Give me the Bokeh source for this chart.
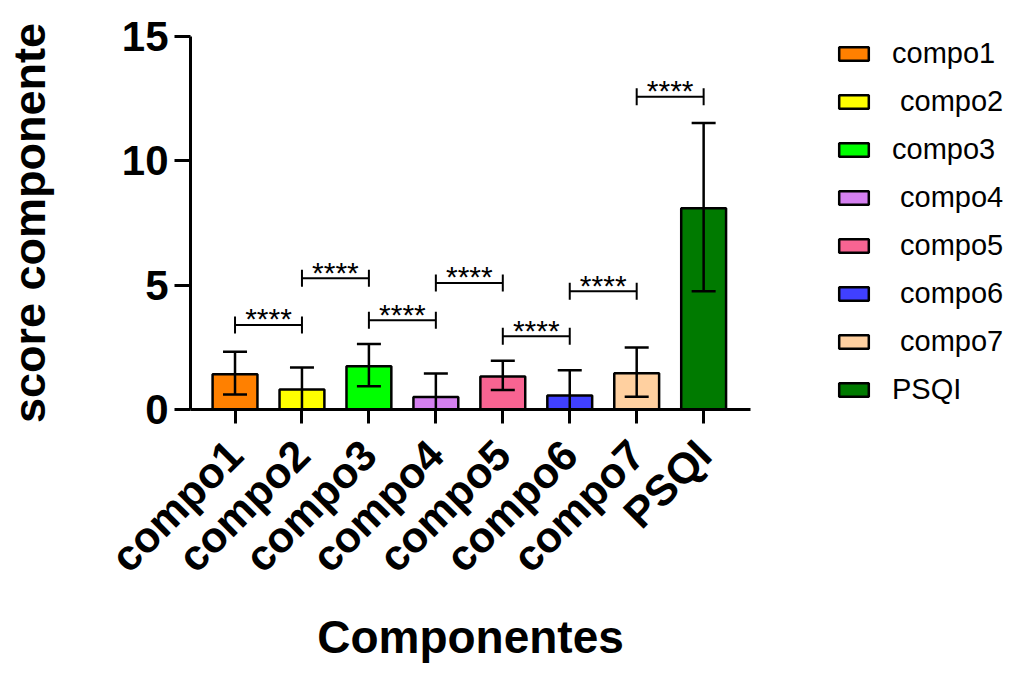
import math
from bokeh.plotting import figure
from bokeh.models import ColumnDataSource, FixedTicker, Legend, LegendItem, Range1d, Title
from bokeh.core.properties import value
from bokeh.embed import file_html
from bokeh.resources import INLINE

categories = ["compo1", "compo2", "compo3", "compo4", "compo5", "compo6", "compo7", "PSQI"]
legend_labels = ["compo1", " compo2", "compo3", " compo4", " compo5", " compo6", " compo7", "PSQI"]
means = [1.42, 0.80, 1.74, 0.50, 1.33, 0.56, 1.46, 8.09]
err_upper = [2.32, 1.69, 2.63, 1.45, 1.96, 1.58, 2.49, 11.52]
err_lower = [0.60, -0.09, 0.94, -0.45, 0.78, -0.46, 0.51, 4.76]
colors = ["#FF8000", "#FFFF00", "#00FF00", "#D580F0", "#F86492", "#4040FF", "#FFD0A0", "#007A00"]

bracket_left = ["compo1", "compo2", "compo3", "compo4", "compo5", "compo6", "compo7"]
bracket_right = ["compo2", "compo3", "compo4", "compo5", "compo6", "compo7", "PSQI"]
bracket_height = [3.40, 5.28, 3.59, 5.09, 2.95, 4.76, 12.58]
bracket_label = ["****", "****", "****", "****", "****", "****", "****"]

y_ticks = [0, 5, 10, 15]
x_title = "Componentes"
y_title = "score componente"

FONT = "Liberation Sans"

xs = [i + 1 for i in range(len(categories))]
pos = dict(zip(categories, xs))

src = ColumnDataSource(dict(x=xs, top=means, color=colors, up=err_upper, lo=err_lower))

bl = [pos[c] for c in bracket_left]
br = [pos[c] for c in bracket_right]
bsrc = ColumnDataSource(dict(
    x0=bl, x1=br, y=bracket_height,
    xm=[(a + b) / 2 for a, b in zip(bl, br)], lab=bracket_label))
tsrc = ColumnDataSource(dict(x=bl + br, y=bracket_height + bracket_height))

# layout: the axis covers 560px; the frame continues right to hold the legend
W, LEFT, TOP, H, BOTTOM = 1005, 190, 36, 669, 260
AXIS_PX = 560
FRAME_W = W - LEFT
x_start, x_axis_end = xs[0] - 0.665, xs[-1] + 0.70
unit = AXIS_PX / (x_axis_end - x_start)
x_end = x_start + FRAME_W / unit

p = figure(width=W, height=H,
           x_range=Range1d(x_start, x_end),
           y_range=Range1d(0, 15),
           output_backend="svg", toolbar_location=None,
           min_border_left=LEFT, min_border_right=0,
           min_border_top=TOP, min_border_bottom=BOTTOM)
p.xgrid.visible = False
p.ygrid.visible = False
p.outline_line_color = None
p.background_fill_color = "white"

bars = p.vbar(x="x", top="top", bottom=0, width=0.67, source=src,
              fill_color="color", line_color="black", line_width=2.5)

p.segment(x0="x", y0="lo", x1="x", y1="up", source=src, line_color="black", line_width=2.5)
p.dash(x="x", y="up", size=24, source=src, line_color="black", line_width=2.5)
p.dash(x="x", y="lo", size=24, source=src, line_color="black", line_width=2.5)

p.segment(x0="x0", y0="y", x1="x1", y1="y", source=bsrc, line_color="black", line_width=2)
p.dash(x="x", y="y", size=17, angle=math.pi / 2, source=tsrc, line_color="black", line_width=2)
p.text(x="xm", y="y", text="lab", source=bsrc, text_align="center",
       text_baseline="alphabetic", y_offset=-6,
       text_font=value(FONT), text_font_size="30px", text_color="black")

for ax in (p.xaxis[0], p.yaxis[0]):
    ax.axis_line_width = 3
    ax.axis_line_color = "black"
    ax.major_tick_line_width = 3
    ax.major_tick_line_color = "black"
    ax.major_tick_in = 0
    ax.minor_tick_line_color = None
    ax.major_label_text_font = FONT
    ax.major_label_text_font_style = "bold"
    ax.major_label_text_color = "black"
    ax.axis_label_text_font = FONT
    ax.axis_label_text_font_style = "bold"
    ax.axis_label_text_color = "black"

p.xaxis.bounds = (x_start, x_axis_end)
p.xaxis.ticker = FixedTicker(ticks=xs)
p.xaxis.major_label_overrides = {x: c for x, c in zip(xs, categories)}
p.xaxis.major_label_orientation = math.pi / 4
p.xaxis.major_label_text_font_size = "43px"
p.xaxis.major_tick_out = 14
p.xaxis.major_label_standoff = 24

p.yaxis.ticker = FixedTicker(ticks=y_ticks)
p.yaxis.major_label_text_font_size = "42px"
p.yaxis.major_tick_out = 16
p.yaxis.major_label_standoff = 6
p.yaxis.axis_label = y_title
p.yaxis.axis_label_text_font_size = "45px"
p.yaxis.axis_label_standoff = 64

# x-axis title, centred under the 560px axis
XT_SIZE = 46
xt_width = 6.667 * XT_SIZE
p.add_layout(Title(text=x_title, align="left", offset=AXIS_PX / 2 - xt_width / 2,
                   text_font=FONT, text_font_style="bold",
                   text_font_size=f"{XT_SIZE}px", text_color="black",
                   standoff=14), "below")

legend = Legend(items=[LegendItem(label=l, renderers=[bars], index=i)
                       for i, l in enumerate(legend_labels)],
                location=(645, 3))
legend.glyph_width = 37
legend.glyph_height = 17
legend.label_height = 34
legend.spacing = 14
legend.label_standoff = 20
legend.label_text_font = FONT
legend.label_text_font_size = "29px"
legend.label_text_color = "black"
legend.padding = 0
legend.margin = 0
legend.border_line_color = None
legend.background_fill_alpha = 0
p.add_layout(legend)

open("out.html", "w").write(file_html(p, INLINE))
